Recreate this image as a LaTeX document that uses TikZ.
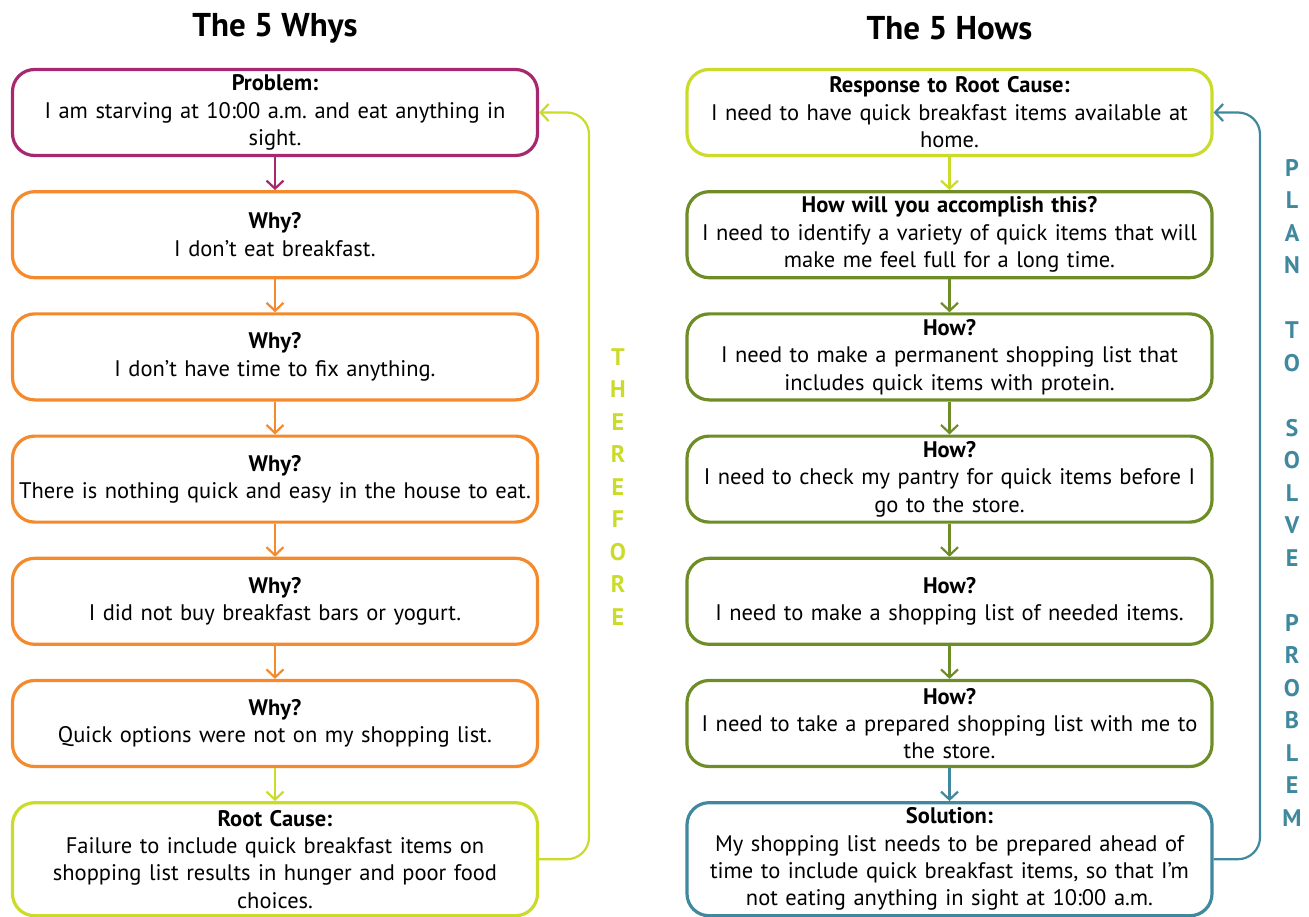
\documentclass[tikz,border=0pt]{standalone}
\usepackage{fontspec}
\setmainfont{PT Sans}
\usetikzlibrary{arrows.meta,positioning}
\usepackage{xcolor}
\definecolor{Plum}{HTML}{A8286F}
\definecolor{Tangerine}{HTML}{F48A2C}
\definecolor{Lime}{HTML}{CBDB2A}
\definecolor{Olive}{HTML}{6F8D27}
\definecolor{Slate}{HTML}{3F889D}
\frenchspacing

\begin{document}
\begin{tikzpicture}[x=1pt, y=1pt,
  qbox/.style={draw, line width=3.2pt, rounded corners=22pt, minimum width=525pt,
               minimum height=86pt, text width=515pt, align=center, inner sep=0pt,
               font=\fontsize{22.5}{27.4}\selectfont},
  tallbox/.style={qbox, minimum height=113pt},
  headline/.style={font=\fontsize{33}{36}\selectfont\bfseries},
  sideword/.style={align=center, inner sep=0pt, font=\fontsize{24}{32.5}\selectfont\bfseries},
  link/.style={-{Straight Barb[length=8pt, width=17pt]}, line width=2.2pt},
  node distance=33pt
]
  \useasboundingbox (0,0) rectangle (1309,-917);

  \node[headline] (whys) at (275,-28) {The 5 Whys};
  \node[headline] (hows) at (949.5,-28) {The 5 Hows};

  % the 5 whys
  \node[qbox, draw=Plum] (prob) at (275,-112.5)
    {\textbf{Problem:}\\I am starving at 10:00 a.m. and eat anything in\\sight.};
  \node[qbox, draw=Tangerine, below=of prob] (why1) {\textbf{Why?}\\I don’t eat breakfast.};
  \node[qbox, draw=Tangerine, below=of why1] (why2) {\textbf{Why?}\\I don’t have time to fix anything.};
  \node[qbox, draw=Tangerine, below=of why2] (why3) {\textbf{Why?}\\There is nothing quick and easy in the house to eat.};
  \node[qbox, draw=Tangerine, below=of why3] (why4) {\textbf{Why?}\\I did not buy breakfast bars or yogurt.};
  \node[qbox, draw=Tangerine, below=of why4] (why5) {\textbf{Why?}\\Quick options were not on my shopping list.};
  \node[tallbox, draw=Lime, below=of why5] (root)
    {\textbf{Root Cause:}\\Failure to include quick breakfast items on\\shopping list results in hunger and poor food\\choices.};

  \draw[link, Plum] (prob) -- (why1);
  \draw[link, Tangerine] (why1) -- (why2);
  \draw[link, Tangerine] (why2) -- (why3);
  \draw[link, Tangerine] (why3) -- (why4);
  \draw[link, Tangerine] (why4) -- (why5);
  \draw[link, Lime] (why5) -- (root);

  \coordinate (backL) at (589,-480);
  \draw[link, Lime, rounded corners=22pt] (root.east) -| (backL) |- (prob.east);
  \node[sideword, text=Lime] (therefore) at (618,-487) {T\\H\\E\\R\\E\\F\\O\\R\\E};

  % the 5 hows
  \node[qbox, draw=Lime] (resp) at (949.5,-112.5)
    {\textbf{Response to Root Cause:}\\I need to have quick breakfast items available at\\home.};
  \node[qbox, draw=Olive, below=of resp] (how1)
    {\textbf{How will you accomplish this?}\\I need to identify a variety of quick items that will\\make me feel full for a long time.};
  \node[qbox, draw=Olive, below=of how1] (how2)
    {\textbf{How?}\\I need to make a permanent shopping list that\\includes quick items with protein.};
  \node[qbox, draw=Olive, below=of how2] (how3)
    {\textbf{How?}\\I need to check my pantry for quick items before I\\go to the store.};
  \node[qbox, draw=Olive, below=of how3] (how4)
    {\textbf{How?}\\I need to make a shopping list of needed items.};
  \node[qbox, draw=Olive, below=of how4] (how5)
    {\textbf{How?}\\I need to take a prepared shopping list with me to\\the store.};
  \node[tallbox, draw=Slate, below=of how5] (sol)
    {\textbf{Solution:}\\My shopping list needs to be prepared ahead of\\time to include quick breakfast items, so that I’m\\not eating anything in sight at 10:00 a.m.};

  \draw[link, Lime] (resp) -- (how1);
  \draw[link, Olive] (how1) -- (how2);
  \draw[link, Olive] (how2) -- (how3);
  \draw[link, Olive] (how3) -- (how4);
  \draw[link, Olive] (how4) -- (how5);
  \draw[link, Slate] (how5) -- (sol);

  \coordinate (backR) at (1260,-480);
  \draw[link, Slate, rounded corners=22pt] (sol.east) -| (backR) |- (resp.east);
  \node[sideword, text=Slate] (plan) at (1292,-492.5)
    {P\\L\\A\\N\\[32.5pt]T\\O\\[32.5pt]S\\O\\L\\V\\E\\[32.5pt]P\\R\\O\\B\\L\\E\\M};
\end{tikzpicture}
\end{document}
